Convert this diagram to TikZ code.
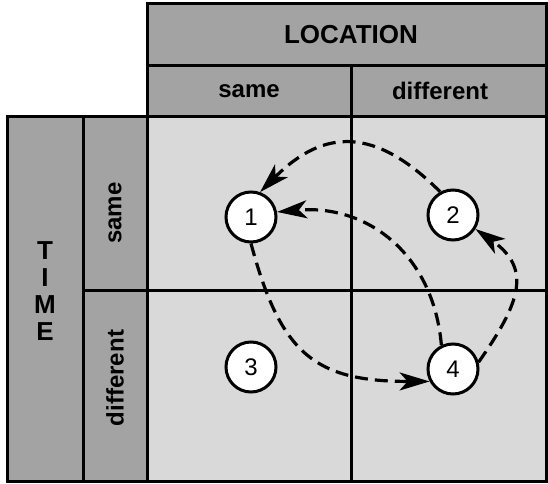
\documentclass[tikz,border=0pt]{standalone}
\usepackage{fontspec}
\setmainfont{Liberation Sans}
\usetikzlibrary{arrows.meta}
\begin{document}
\begin{tikzpicture}[x=1pt,y=1pt,
  frame/.style={line width=3pt},
  dark/.style={fill=black!36},
  light/.style={fill=black!15},
  head/.style={font=\bfseries\fontsize{26}{30}\selectfont, inner sep=0pt},
  sub/.style={font=\bfseries\fontsize{24}{28}\selectfont, inner sep=0pt},
  site/.style={circle, draw, line width=3pt, fill=white, minimum size=50pt,
    inner sep=0pt, font=\fontsize{24}{28}\selectfont},
  flow/.style={line width=3.2pt, dash pattern=on 13pt off 7pt,
    -{Stealth[length=30pt,width=18pt,inset=8pt]}}
]
\useasboundingbox (0,0) rectangle (548,483);

% shaded panels
\fill[dark] (147,367) rectangle (546,479);
\fill[dark] (7,2) rectangle (147,367);
\fill[light] (147,2) rectangle (546,367);

% table rules
\draw[frame] (147,2) rectangle (546,479);
\draw[frame] (7,2) rectangle (147,367);
\draw[frame] (147,417) -- (546,417);
\draw[frame] (147,367) -- (546,367);
\draw[frame] (351,417) -- (351,2);
\draw[frame] (83,193) -- (546,193);
\draw[frame] (83,367) -- (83,2);

% headings
\node[head] (loc) at (351,448) {LOCATION};
\node[sub] (lsame) at (249,392) {same};
\node[sub] (ldiff) at (440,392) {different};
\node[sub, rotate=90] (tsame) at (115,270) {same};
\node[sub, rotate=90] (tdiff) at (115,105) {different};
\node[head, align=center] (time) at (45,192) {T\\[-3pt]I\\[-3pt]M\\[-3pt]E};

% sites
\node[site] (n1) at (251,266) {1};
\node[site] (n2) at (453,268) {2};
\node[site] (n3) at (251,116) {3};
\node[site] (n4) at (453,114) {4};

% transitions
\draw[flow] (n2.119) to[out=135,in=45,looseness=1.3] (n1.70);
\draw[flow] (n4.116) to[out=95,in=5,looseness=1.1] (n1.11);
\draw[flow] (n1.270) to[out=-75,in=180,looseness=1.3] (n4.208);
\draw[flow] (n4.15) to[out=55,in=-35,looseness=1.35] (n2.-32);
\end{tikzpicture}
\end{document}
